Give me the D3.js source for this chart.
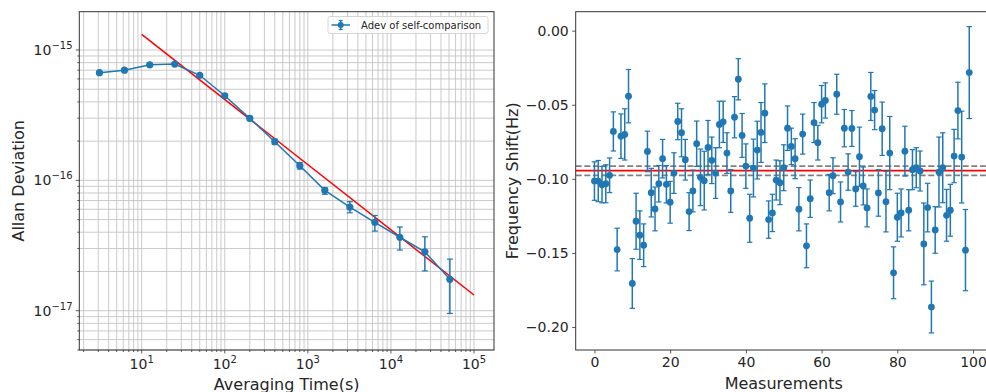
<!DOCTYPE html>
<html><head><meta charset="utf-8">
<script src="https://cdn.jsdelivr.net/npm/d3@7"></script>
<style>
body{margin:0;background:#fff}
svg{display:block}
text{font-family:"DejaVu Sans",sans-serif;fill:#262626}
</style>
</head><body>
<svg id="c" width="986" height="392"></svg>
<script>
// ---------- Left chart data (Allan deviation) ----------
const tau = [3.1, 6.2, 12.5, 25, 50, 100, 200, 400, 800, 1600, 3200, 6400, 12800, 25600, 51200];
const adev = [6.7e-16, 7.0e-16, 7.7e-16, 7.8e-16, 6.4e-16, 4.46e-16, 2.99e-16, 1.98e-16, 1.295e-16, 8.38e-17, 6.24e-17, 4.77e-17, 3.66e-17, 2.83e-17, 1.74e-17];
const adevLow = [6.6e-16, 6.9e-16, 7.6e-16, 7.65e-16, 6.25e-16, 4.33e-16, 2.88e-16, 1.89e-16, 1.22e-16, 7.82e-17, 5.64e-17, 4.08e-17, 2.92e-17, 2.02e-17, 9.53e-18];
const adevHigh = [6.8e-16, 7.1e-16, 7.8e-16, 7.95e-16, 6.55e-16, 4.6e-16, 3.1e-16, 2.07e-16, 1.37e-16, 8.77e-17, 6.86e-17, 5.38e-17, 4.39e-17, 3.69e-17, 2.49e-17];
const fitTau = [10, 100000];
const fitAdev = [1.32e-15, 1.32e-17];
const xTickExp = [1, 2, 3, 4, 5];
const yTickExp = [-15, -16, -17];
const legendLabel = "Adev of self-comparison";

// ---------- Right chart data (frequency shifts) ----------
const shiftValues = [
-0.1015,-0.1015,-0.1039,-0.1033,-0.0976,-0.0680,-0.1477,-0.0712,-0.0700,-0.0442,
-0.1706,-0.1286,-0.1380,-0.1448,-0.0815,-0.1093,-0.1203,-0.1033,-0.0864,-0.1037,
-0.1158,-0.0961,-0.0613,-0.0689,-0.0871,-0.1221,-0.1082,-0.0763,-0.0990,-0.1012,
-0.0788,-0.0875,-0.0961,-0.0633,-0.0615,-0.0826,-0.1082,-0.0584,-0.0328,-0.0707,
-0.0914,-0.1266,-0.0927,-0.0806,-0.0687,-0.0557,-0.1275,-0.1230,-0.1008,-0.1026,
-0.0925,-0.0658,-0.0781,-0.0864,-0.1205,-0.0698,-0.1452,-0.1134,-0.0620,-0.0756,
-0.0496,-0.0471,-0.1093,-0.0979,-0.0429,-0.1156,-0.0658,-0.0954,-0.0660,-0.1068,
-0.0851,-0.1048,-0.1196,-0.0444,-0.0536,-0.1095,-0.0662,-0.1154,-0.0826,-0.1634,
-0.1259,-0.1230,-0.0813,-0.1212,-0.0938,-0.0925,-0.0947,-0.1439,-0.1194,-0.1865,
-0.1345,-0.0954,-0.0925,-0.1246,-0.1212,-0.0846,-0.0539,-0.0853,-0.1481,-0.0283];
const shiftErrors = [
0.0130,0.0139,0.0123,0.0128,0.0117,0.0132,0.0144,0.0150,0.0173,0.0180,
0.0168,0.0189,0.0164,0.0144,0.0137,0.0164,0.0148,0.0123,0.0130,0.0126,
0.0141,0.0137,0.0123,0.0162,0.0137,0.0128,0.0141,0.0153,0.0191,0.0198,
0.0182,0.0157,0.0171,0.0157,0.0139,0.0137,0.0144,0.0139,0.0139,0.0148,
0.0150,0.0162,0.0195,0.0195,0.0202,0.0198,0.0126,0.0126,0.0135,0.0148,
0.0155,0.0150,0.0123,0.0135,0.0146,0.0135,0.0148,0.0126,0.0135,0.0117,
0.0126,0.0119,0.0123,0.0121,0.0135,0.0135,0.0126,0.0123,0.0121,0.0117,
0.0200,0.0128,0.0128,0.0162,0.0132,0.0157,0.0180,0.0204,0.0247,0.0175,
0.0162,0.0162,0.0168,0.0139,0.0135,0.0135,0.0135,0.0276,0.0164,0.0175,
0.0157,0.0236,0.0236,0.0175,0.0175,0.0180,0.0191,0.0310,0.0274,0.0310];
const meanShift = -0.0945;
const bandLow = -0.0976;
const bandHigh = -0.0914;
const xTicksR = [0, 20, 40, 60, 80, 100];
const yTicksR = [0, -0.05, -0.10, -0.15, -0.20];

const BLUE = "#1f77b4", AX = "#333";
const svg = d3.select("#c");

// =============== LEFT CHART ===============
const L = {x0: 79.3, x1: 494, y0: 11.7, y1: 350};
const xL = d3.scaleLog().domain([1.774, 1.74e5]).range([L.x0, L.x1]);
const yL = d3.scaleLog().domain([4.995e-18, 1.968e-15]).range([L.y1, L.y0]);

function logValues(dom) {
  const out = [];
  const k0 = Math.floor(Math.log10(dom[0])), k1 = Math.ceil(Math.log10(dom[1]));
  for (let k = k0; k <= k1; k++) for (let m = 1; m <= 9; m++) {
    const v = +(m + "e" + k);
    if (v >= dom[0] * 0.9999 && v <= dom[1] * 1.0001) out.push({v, major: m === 1});
  }
  return out;
}
const xGrid = logValues(xL.domain()), yGrid = logValues(yL.domain());

const gL = svg.append("g");
// grid
gL.selectAll(".gx").data(xGrid).join("line")
  .attr("x1", d => xL(d.v)).attr("x2", d => xL(d.v)).attr("y1", L.y0).attr("y2", L.y1)
  .attr("stroke", "#c4c4c4").attr("stroke-width", 0.9);
gL.selectAll(".gy").data(yGrid).join("line")
  .attr("y1", d => yL(d.v)).attr("y2", d => yL(d.v)).attr("x1", L.x0).attr("x2", L.x1)
  .attr("stroke", "#c4c4c4").attr("stroke-width", 0.9);
// ticks
gL.selectAll(".tx").data(xGrid).join("line")
  .attr("x1", d => xL(d.v)).attr("x2", d => xL(d.v)).attr("y1", L.y1).attr("y2", d => L.y1 + (d.major ? 3.5 : 2))
  .attr("stroke", AX).attr("stroke-width", 0.8);
gL.selectAll(".ty").data(yGrid).join("line")
  .attr("y1", d => yL(d.v)).attr("y2", d => yL(d.v)).attr("x1", L.x0).attr("x2", d => L.x0 - (d.major ? 3.5 : 2))
  .attr("stroke", AX).attr("stroke-width", 0.8);
// tick labels
xTickExp.forEach(e => {
  const t = gL.append("text").attr("x", xL(Math.pow(10, e))).attr("y", 369).attr("text-anchor", "middle").attr("font-size", 14);
  t.append("tspan").text("10");
  t.append("tspan").attr("dy", -6).attr("font-size", 10).text(String(e));
});
yTickExp.forEach(e => {
  const t = gL.append("text").attr("x", 72.5).attr("y", yL(Math.pow(10, e)) + 5).attr("text-anchor", "end").attr("font-size", 14);
  t.append("tspan").text("10");
  t.append("tspan").attr("dy", -6).attr("font-size", 10).text("\u2212" + String(-e));
});
// fit line
gL.append("path").datum(fitTau.map((t, i) => [t, fitAdev[i]]))
  .attr("d", d3.line().x(d => xL(d[0])).y(d => yL(d[1])))
  .attr("stroke", "#ff0000").attr("stroke-width", 1.5).attr("fill", "none");
// error bars
const lData = tau.map((t, i) => ({t, v: adev[i], lo: adevLow[i], hi: adevHigh[i]}));
gL.selectAll(".eb").data(lData).join("line")
  .attr("x1", d => xL(d.t)).attr("x2", d => xL(d.t)).attr("y1", d => yL(d.lo)).attr("y2", d => yL(d.hi))
  .attr("stroke", BLUE).attr("stroke-width", 1.5);
gL.selectAll(".cl").data(lData).join("line")
  .attr("x1", d => xL(d.t) - 3).attr("x2", d => xL(d.t) + 3).attr("y1", d => yL(d.lo)).attr("y2", d => yL(d.lo))
  .attr("stroke", BLUE).attr("stroke-width", 1.2);
gL.selectAll(".ch").data(lData).join("line")
  .attr("x1", d => xL(d.t) - 3).attr("x2", d => xL(d.t) + 3).attr("y1", d => yL(d.hi)).attr("y2", d => yL(d.hi))
  .attr("stroke", BLUE).attr("stroke-width", 1.2);
gL.append("path").datum(lData)
  .attr("d", d3.line().x(d => xL(d.t)).y(d => yL(d.v)))
  .attr("stroke", BLUE).attr("stroke-width", 1.5).attr("fill", "none");
gL.selectAll(".pt").data(lData).join("circle")
  .attr("cx", d => xL(d.t)).attr("cy", d => yL(d.v)).attr("r", 3.6).attr("fill", BLUE);
// frame
gL.append("rect").attr("x", L.x0).attr("y", L.y0).attr("width", L.x1 - L.x0).attr("height", L.y1 - L.y0)
  .attr("fill", "none").attr("stroke", AX).attr("stroke-width", 1);
// legend
const lg = gL.append("g");
lg.append("rect").attr("x", 328).attr("y", 16.5).attr("width", 160).attr("height", 17).attr("rx", 2)
  .attr("fill", "#fff").attr("fill-opacity", 0.85).attr("stroke", "#ccc").attr("stroke-width", 0.8);
lg.append("line").attr("x1", 331.5).attr("x2", 350).attr("y1", 25).attr("y2", 25).attr("stroke", BLUE).attr("stroke-width", 1.5);
lg.append("line").attr("x1", 340.7).attr("x2", 340.7).attr("y1", 20.5).attr("y2", 29.5).attr("stroke", BLUE).attr("stroke-width", 1.5);
lg.append("line").attr("x1", 338.7).attr("x2", 342.7).attr("y1", 20.5).attr("y2", 20.5).attr("stroke", BLUE).attr("stroke-width", 1.2);
lg.append("line").attr("x1", 338.7).attr("x2", 342.7).attr("y1", 29.5).attr("y2", 29.5).attr("stroke", BLUE).attr("stroke-width", 1.2);
lg.append("circle").attr("cx", 340.7).attr("cy", 25).attr("r", 3).attr("fill", BLUE);
lg.append("text").attr("x", 361).attr("y", 28.5).attr("font-size", 10).text(legendLabel);
// axis labels
gL.append("text").attr("transform", `translate(24,${(L.y0 + L.y1) / 2}) rotate(-90)`)
  .attr("text-anchor", "middle").attr("font-size", 16).text("Allan Deviation");
gL.append("text").attr("x", (L.x0 + L.x1) / 2).attr("y", 389.5)
  .attr("text-anchor", "middle").attr("font-size", 16).text("Averaging Time(s)");

// =============== RIGHT CHART ===============
const R = {x0: 575.7, x1: 988, y0: 11.7, y1: 350};
const xR = d3.scaleLinear().domain([-4.95, 103.95]).range([R.x0, R.x1]);
const yR = d3.scaleLinear().domain([0.0128, -0.2155]).range([R.y0, R.y1]);
const gR = svg.append("g");

// horizontal reference lines
gR.append("line").attr("x1", R.x0).attr("x2", R.x1).attr("y1", yR(bandHigh)).attr("y2", yR(bandHigh))
  .attr("stroke", "#808080").attr("stroke-width", 1.8).attr("stroke-dasharray", "6,2.6");
gR.append("line").attr("x1", R.x0).attr("x2", R.x1).attr("y1", yR(bandLow)).attr("y2", yR(bandLow))
  .attr("stroke", "#808080").attr("stroke-width", 1.8).attr("stroke-dasharray", "6,2.6");
gR.append("line").attr("x1", R.x0).attr("x2", R.x1).attr("y1", yR(meanShift)).attr("y2", yR(meanShift))
  .attr("stroke", "#ff0000").attr("stroke-width", 1.8);

const rData = shiftValues.map((v, i) => ({i, v, e: shiftErrors[i]}));
gR.selectAll(".eb").data(rData).join("line")
  .attr("x1", d => xR(d.i)).attr("x2", d => xR(d.i)).attr("y1", d => yR(d.v - d.e)).attr("y2", d => yR(d.v + d.e))
  .attr("stroke", BLUE).attr("stroke-width", 1.5);
gR.selectAll(".cl").data(rData).join("line")
  .attr("x1", d => xR(d.i) - 2.7).attr("x2", d => xR(d.i) + 2.7).attr("y1", d => yR(d.v - d.e)).attr("y2", d => yR(d.v - d.e))
  .attr("stroke", BLUE).attr("stroke-width", 1.2);
gR.selectAll(".ch").data(rData).join("line")
  .attr("x1", d => xR(d.i) - 2.7).attr("x2", d => xR(d.i) + 2.7).attr("y1", d => yR(d.v + d.e)).attr("y2", d => yR(d.v + d.e))
  .attr("stroke", BLUE).attr("stroke-width", 1.2);
gR.selectAll(".pt").data(rData).join("circle")
  .attr("cx", d => xR(d.i)).attr("cy", d => yR(d.v)).attr("r", 3.4).attr("fill", BLUE);

// axes
const axB = gR.append("g").attr("transform", `translate(0,${R.y1})`)
  .call(d3.axisBottom(xR).tickValues(xTicksR).tickSize(3.5).tickPadding(3.5).tickFormat(d3.format("d")));
const axL = gR.append("g").attr("transform", `translate(${R.x0},0)`)
  .call(d3.axisLeft(yR).tickValues(yTicksR).tickSize(3.5).tickPadding(3.5).tickFormat(d3.format(".2f")));
[axB, axL].forEach(a => {
  a.attr("font-family", null).attr("font-size", null);
  a.select(".domain").remove();
  a.selectAll(".tick line").attr("stroke", AX).attr("stroke-width", 0.8);
  a.selectAll(".tick text").attr("font-size", 14).attr("fill", "#262626");
});
gR.append("rect").attr("x", R.x0).attr("y", R.y0).attr("width", R.x1 - R.x0).attr("height", R.y1 - R.y0)
  .attr("fill", "none").attr("stroke", AX).attr("stroke-width", 1);
gR.append("text").attr("transform", `translate(518,${(R.y0 + R.y1) / 2}) rotate(-90)`)
  .attr("text-anchor", "middle").attr("font-size", 16).text("Frequency Shift(Hz)");
gR.append("text").attr("x", xR(50)).attr("y", 388.5)
  .attr("text-anchor", "middle").attr("font-size", 16).text("Measurements");
</script>
</body></html>
